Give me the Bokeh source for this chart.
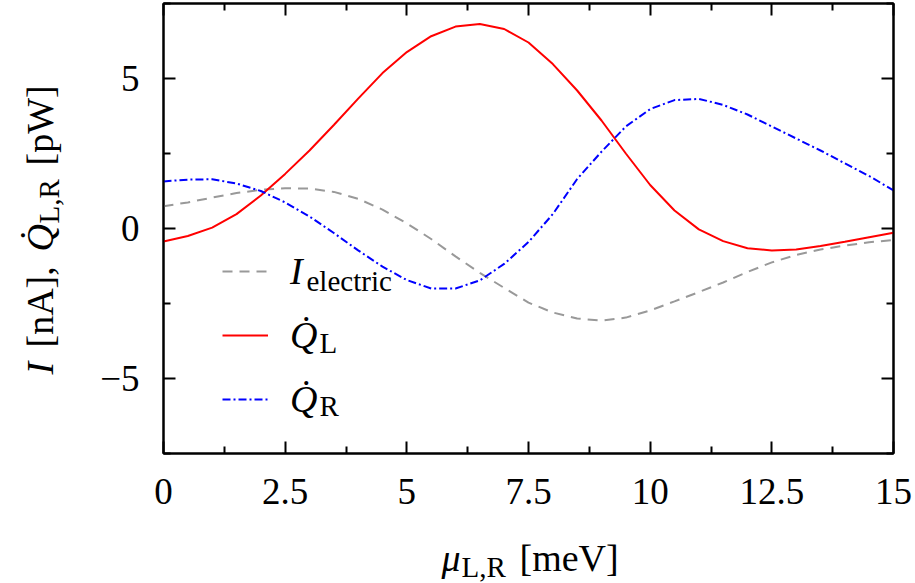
import numpy as np
from bokeh.plotting import figure
from bokeh.layouts import column, row
from bokeh.models import (FixedTicker, LinearAxis, Label, Legend, LegendItem,
                          CustomJSTickFormatter, Range1d)
from bokeh.embed import file_html
from bokeh.resources import INLINE
from bokeh.core.properties import value

# ---------------- data ----------------
mu = [0.0, 0.5, 1.0, 1.5, 2.0, 2.5, 3.0, 3.5, 4.0, 4.5, 5.0, 5.5, 6.0, 6.5, 7.0, 7.5,
      8.0, 8.5, 9.0, 9.5, 10.0, 10.5, 11.0, 11.5, 12.0, 12.5, 13.0, 13.5, 14.0, 14.5, 15.0]
i_electric = [0.74, 0.87, 1.03, 1.18, 1.29, 1.34, 1.33, 1.22, 0.99, 0.63, 0.17, -0.35,
              -0.93, -1.48, -1.98, -2.47, -2.80, -3.00, -3.07, -2.97, -2.73, -2.43, -2.12,
              -1.80, -1.45, -1.13, -0.88, -0.70, -0.57, -0.46, -0.38]
q_left = [-0.43, -0.25, 0.03, 0.48, 1.10, 1.82, 2.60, 3.45, 4.33, 5.18, 5.88, 6.41, 6.73,
          6.82, 6.65, 6.20, 5.48, 4.60, 3.60, 2.50, 1.45, 0.60, -0.03, -0.42, -0.66, -0.73,
          -0.70, -0.58, -0.44, -0.29, -0.14]
q_right = [1.57, 1.63, 1.64, 1.50, 1.25, 0.87, 0.40, -0.15, -0.73, -1.27, -1.72, -2.00,
           -2.00, -1.73, -1.18, -0.45, 0.48, 1.65, 2.56, 3.40, 3.98, 4.28, 4.32, 4.12, 3.80,
           3.40, 3.00, 2.60, 2.17, 1.75, 1.27]

x_ticks = [0, 2.5, 5, 7.5, 10, 12.5, 15]
x_tick_labels = ["0", "2.5", "5", "7.5", "10", "12.5", "15"]
x_minor = [1.25, 3.75, 6.25, 8.75, 11.25, 13.75]
y_ticks = [-5, 0, 5]
y_tick_labels = ["\u22125", "0", "5"]
y_minor = [-7.5, -2.5, 2.5, 7.5]

# ---------------- layout ----------------
W, H = 915, 583
YLAB_W = 70          # width of the panel holding the y-axis title
XLAB_H = 53          # height of the panel holding the x-axis title
MAIN_H = H - XLAB_H
FL, FR, FT, FB = 163, 893, 3, 453
FONT = "Liberation Serif"
F = 38
FS = 29
TICKF = 37
MID = 0.3375         # middle-anchor -> baseline offset (em)

p = figure(width=W - YLAB_W, height=MAIN_H, x_range=Range1d(0, 15), y_range=Range1d(-7.5, 7.5),
           output_backend="svg", toolbar_location=None,
           min_border_left=FL - YLAB_W, min_border_right=W - FR,
           min_border_top=FT, min_border_bottom=MAIN_H - FB)
p.grid.visible = False
p.outline_line_color = "black"
p.outline_line_width = 2
p.background_fill_color = "white"
p.border_fill_color = "white"

p.add_layout(LinearAxis(), "above")
p.add_layout(LinearAxis(), "right")


def style_axis(ax, ticks, minor, labels, show):
    ax.ticker = FixedTicker(ticks=ticks, minor_ticks=minor)
    ax.axis_line_color = "black"
    ax.axis_line_width = 2
    ax.major_tick_line_color = "black"
    ax.major_tick_line_width = 2
    ax.major_tick_in = 12
    ax.major_tick_out = 0
    ax.minor_tick_line_color = "black"
    ax.minor_tick_line_width = 2
    ax.minor_tick_in = 7
    ax.minor_tick_out = 0
    if show:
        ax.major_label_overrides = {t: l for t, l in zip(ticks, labels)}
        ax.major_label_text_font = FONT
        ax.major_label_text_font_size = f"{TICKF}px"
        ax.major_label_text_color = "black"
    else:
        ax.formatter = CustomJSTickFormatter(code="return ''")
        ax.major_label_text_font_size = "0px"
        ax.major_label_standoff = 0


for ax in p.below:
    style_axis(ax, x_ticks, x_minor, x_tick_labels, True)
    ax.major_label_standoff = 25
for ax in p.left:
    style_axis(ax, y_ticks, y_minor, y_tick_labels, True)
    ax.major_label_standoff = 24
for ax in p.above:
    style_axis(ax, x_ticks, x_minor, x_tick_labels, False)
for ax in p.right:
    style_axis(ax, y_ticks, y_minor, y_tick_labels, False)

# ---------------- curves ----------------
r_i = p.line(mu, i_electric, line_color="#999999", line_width=2, line_dash="10 7")
r_l = p.line(mu, q_left, line_color="#ff0000", line_width=2)
r_r = p.line(mu, q_right, line_color="#0000ff", line_width=2, line_dash="8 3 2 3")

# ---------------- legend ----------------
legend = Legend(items=[LegendItem(label=value("I"), renderers=[r_i]),
                       LegendItem(label=value("Q\u0307"), renderers=[r_l]),
                       LegendItem(label=value("Q\u0307"), renderers=[r_r])],
                location=(59, 32), orientation="vertical",
                glyph_width=46, glyph_height=40, label_height=40,
                label_standoff=22, spacing=20, padding=0, margin=0,
                border_line_alpha=0, background_fill_alpha=0,
                label_text_font=FONT, label_text_font_style="italic",
                label_text_font_size=f"{F}px", label_text_color="black")
p.add_layout(legend)


def main_y(py):
    # canvas pixel row -> data y of the main plot (frames are aligned in the row)
    return 7.5 - 15 * (py - FT) / (FB - FT)


def main_x(px):
    return 15 * (px - FL) / (FR - FL)


def add_text(fig, text, x, y, size, style="normal", angle=0.0):
    fig.add_layout(Label(x=x, y=y, text=text, text_font=FONT,
                         text_font_size=f"{size}px", text_font_style=style,
                         text_align="left", text_baseline="middle",
                         text_color="black", angle=angle, angle_units="rad"))


# legend subscripts (baselines in canvas px)
for txt, pxx, base in [("electric", 306, 290), ("L", 319, 352), ("R", 319, 415)]:
    add_text(p, txt, main_x(pxx), main_y(base - MID * FS), FS)


def text_panel(w, h, y_range):
    f = figure(width=w, height=h, x_range=Range1d(0, w), y_range=y_range,
               output_backend="svg", toolbar_location=None,
               x_axis_location=None, y_axis_location=None,
               min_border=0, min_border_left=0, min_border_right=0,
               min_border_top=0, min_border_bottom=0)
    f.grid.visible = False
    f.outline_line_color = None
    f.background_fill_color = "white"
    f.border_fill_color = "white"
    return f


# y-axis title panel: its frame lines up with the main frame, so it shares y_range
ylab = text_panel(YLAB_W, MAIN_H, p.y_range)
ang = np.pi / 2
BASE_X = 52
for txt, start, size, style, shift in [("I", 374, F, "italic", 0),
                                       ("[nA],", 347, F, "normal", 0),
                                       ("Q\u0307", 251, F, "italic", 0),
                                       ("L,R", 223, FS, "normal", 6),
                                       ("[pW]", 165, F, "normal", 0)]:
    add_text(ylab, txt, BASE_X + shift - MID * size, main_y(start), size, style, ang)

# x-axis title panel (canvas rows 530..583)
xlab = text_panel(W, XLAB_H, Range1d(0, XLAB_H))


def xlab_y(base, size):
    return H - (base - MID * size)


add_text(xlab, "\u03bc", 441, xlab_y(570, F), F, "italic")
add_text(xlab, "L,R", 461, xlab_y(576, FS), FS)
add_text(xlab, "[meV]", 519, xlab_y(570, F), F)

layout = column(row(ylab, p, spacing=0), xlab, spacing=0)
open("out.html", "w").write(file_html(layout, INLINE))
